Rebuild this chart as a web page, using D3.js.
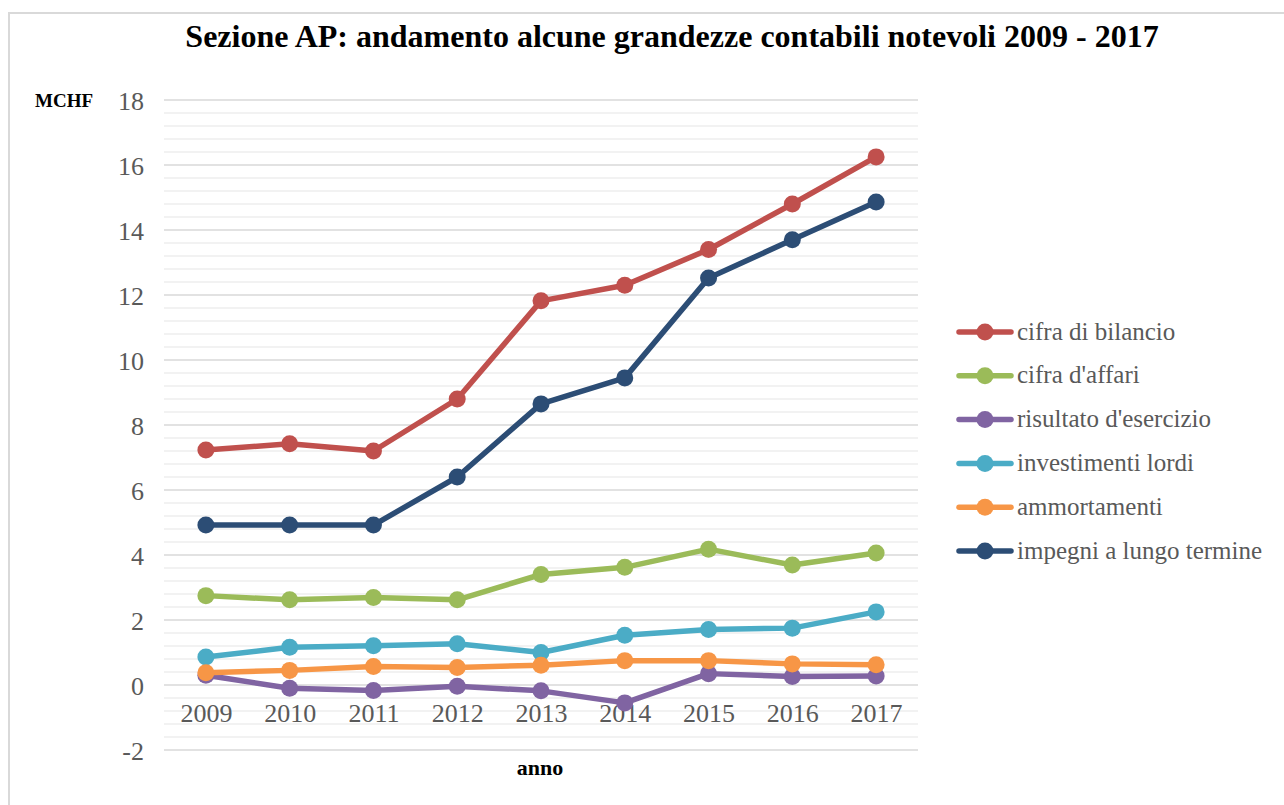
<!DOCTYPE html>
<html>
<head>
<meta charset="utf-8">
<script src="https://cdn.jsdelivr.net/npm/d3@7"></script>
<style>
  body { margin: 0; background: #fff; }
  svg { display: block; }
</style>
</head>
<body>
<svg id="chart" width="1284" height="805"></svg>
<script>
var anni = ["2009", "2010", "2011", "2012", "2013", "2014", "2015", "2016", "2017"];
var cifraBilancio = [7.23, 7.42, 7.2, 8.8, 11.82, 12.3, 13.4, 14.8, 16.25];
var cifraAffari = [2.75, 2.62, 2.69, 2.62, 3.4, 3.62, 4.18, 3.69, 4.06];
var risultato = [0.3, -0.1, -0.17, -0.04, -0.18, -0.55, 0.35, 0.26, 0.28];
var investimenti = [0.86, 1.16, 1.21, 1.27, 1.0, 1.53, 1.71, 1.75, 2.25];
var ammortamenti = [0.38, 0.45, 0.57, 0.54, 0.61, 0.75, 0.75, 0.65, 0.62];
var impegni = [4.92, 4.92, 4.92, 6.4, 8.65, 9.45, 12.52, 13.7, 14.86];
var yTicks = [-2, 0, 2, 4, 6, 8, 10, 12, 14, 16, 18];

var serie = [
    {nome: "cifra di bilancio", valori: cifraBilancio, colore: "#C0504D"},
    {nome: "cifra d'affari", valori: cifraAffari, colore: "#9BBB59"},
    {nome: "risultato d'esercizio", valori: risultato, colore: "#8064A2"},
    {nome: "investimenti lordi", valori: investimenti, colore: "#4BACC6"},
    {nome: "ammortamenti", valori: ammortamenti, colore: "#F79646"},
    {nome: "impegni a lungo termine", valori: impegni, colore: "#2C4D75"}
];

var svg = d3.select("#chart");
var font = "'Liberation Serif', 'DejaVu Serif', serif";

// cornice
svg.append("rect")
    .attr("x", 9).attr("y", 13)
    .attr("width", 1300).attr("height", 820)
    .attr("fill", "none").attr("stroke", "#d9d9d9").attr("stroke-width", 2);

var plotLeft = 164, plotRight = 918, plotTop = 100, plotBottom = 750;

var x = d3.scalePoint().domain(anni).range([plotLeft, plotRight]).padding(0.5);
var y = d3.scaleLinear().domain([-2, 18]).range([plotBottom, plotTop]);

// griglia secondaria
var minori = d3.range(-2, 18.001, 0.4).filter(function(v){
    return Math.abs(v / 2 - Math.round(v / 2)) > 0.01;
});
svg.append("g").selectAll("line").data(minori).join("line")
    .attr("x1", plotLeft).attr("x2", plotRight)
    .attr("y1", function(d){ return y(d); }).attr("y2", function(d){ return y(d); })
    .attr("stroke", "#eeeeee").attr("stroke-width", 1.5);

// griglia principale
svg.append("g").selectAll("line").data(yTicks).join("line")
    .attr("x1", plotLeft).attr("x2", plotRight)
    .attr("y1", function(d){ return y(d); }).attr("y2", function(d){ return y(d); })
    .attr("stroke", "#d9d9d9").attr("stroke-width", 1.5);

// asse y
var yAxis = svg.append("g")
    .attr("transform", "translate(" + (plotLeft - 20) + ",0)")
    .call(d3.axisLeft(y).tickValues(yTicks).tickSize(0).tickPadding(0)
        .tickFormat(function(d){ return String(d); }));
yAxis.select(".domain").remove();
yAxis.selectAll("text")
    .attr("font-family", font).attr("font-size", 26).attr("fill", "#595959")
    .attr("dy", "0.35em");

// asse x (etichette sotto lo zero)
var xAxis = svg.append("g")
    .attr("transform", "translate(0," + (y(0) + 16) + ")")
    .call(d3.axisBottom(x).tickSize(0).tickPadding(0));
xAxis.select(".domain").remove();
xAxis.selectAll("text")
    .attr("font-family", font).attr("font-size", 26).attr("fill", "#595959")
    .attr("dy", "0.8em");

// linee
var linea = d3.line()
    .x(function(d, i){ return x(anni[i]); })
    .y(function(d){ return y(d); });

serie.forEach(function(s){
    var g = svg.append("g");
    g.append("path")
        .attr("d", linea(s.valori))
        .attr("fill", "none").attr("stroke", s.colore)
        .attr("stroke-width", 5.5).attr("stroke-linejoin", "round");
    g.selectAll("circle").data(s.valori).join("circle")
        .attr("cx", function(d, i){ return x(anni[i]); })
        .attr("cy", function(d){ return y(d); })
        .attr("r", 8.5).attr("fill", s.colore);
});

// legenda
var legenda = svg.append("g");
serie.forEach(function(s, i){
    var ly = 332 + i * 43.8;
    legenda.append("line")
        .attr("x1", 959).attr("x2", 1011).attr("y1", ly).attr("y2", ly)
        .attr("stroke", s.colore).attr("stroke-width", 5.5).attr("stroke-linecap", "round");
    legenda.append("circle").attr("cx", 985).attr("cy", ly).attr("r", 8.5).attr("fill", s.colore);
    legenda.append("text")
        .attr("x", 1017).attr("y", ly).attr("dy", "0.3em")
        .attr("font-family", font).attr("font-size", 25).attr("fill", "#595959")
        .text(s.nome);
});

// titoli
svg.append("text")
    .attr("x", 672).attr("y", 47).attr("text-anchor", "middle")
    .attr("font-family", font).attr("font-weight", "bold").attr("font-size", 32)
    .attr("fill", "#000")
    .text("Sezione AP: andamento alcune grandezze contabili notevoli 2009 - 2017");

svg.append("text")
    .attr("x", 35).attr("y", 107)
    .attr("font-family", font).attr("font-weight", "bold").attr("font-size", 19)
    .text("MCHF");

svg.append("text")
    .attr("x", 540).attr("y", 775).attr("text-anchor", "middle")
    .attr("font-family", font).attr("font-weight", "bold").attr("font-size", 22)
    .text("anno");
</script>
</body>
</html>
